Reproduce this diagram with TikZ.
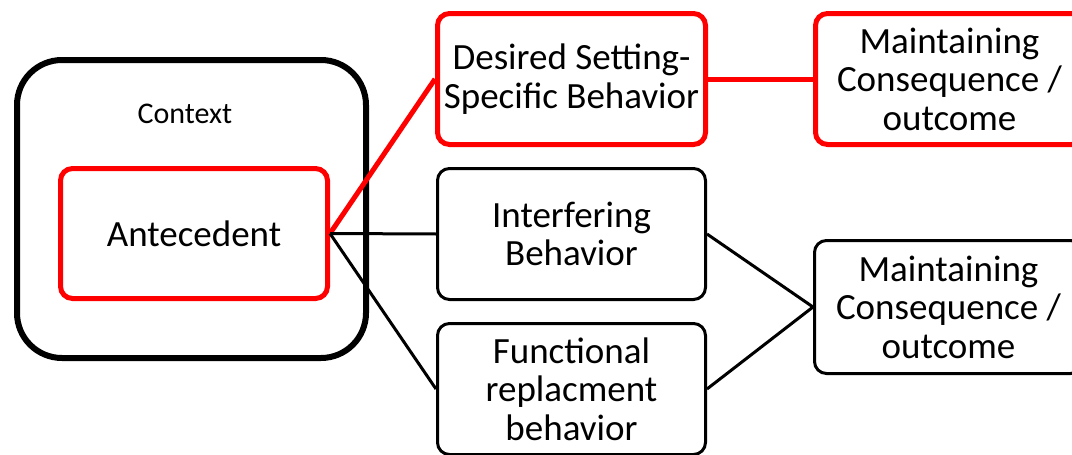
\documentclass[tikz,border=0pt]{standalone}
\usepackage{fontspec}
\setmainfont{Carlito}

\begin{document}
\begin{tikzpicture}[x=1pt,y=-1pt,
    box_node/.style={rectangle,rounded corners=12pt,draw,minimum width=268pt,minimum height=131pt,inner sep=0pt,align=center,font=\fontsize{37}{38.5}\selectfont},
    red_node/.style={box_node,draw=red,line width=5pt},
    black_node/.style={box_node,line width=3pt}]

    \clip (0,0) rectangle (1072,455);
    \node[draw,line width=6pt,rounded corners=45pt,minimum width=349pt,minimum height=298pt] (ctx) at (191.5,209) {};
    \node[font=\fontsize{30}{36}\selectfont] (ctx_label) at (185,114) {Context};
    \node[red_node,minimum width=267pt,minimum height=130pt] (ante) at (194,233.5) {Antecedent};
    \node[red_node] (desired) at (571.5,79) {Desired Setting-\\Specific Behavior};
    \node[red_node] (cons1) at (949.5,79) {Maintaining\\Consequence /\\outcome};
    \node[black_node] (interf) at (571.5,234) {Interfering\\Behavior};
    \node[black_node] (func) at (571.5,389) {Functional\\replacment\\behavior};
    \node[black_node,minimum height=133pt] (cons2) at (948.5,307) {Maintaining\\Consequence /\\outcome};
    \draw[red,line width=5pt] (ante.east) -- (desired.west);
    \draw[red,line width=5pt] (desired) -- (cons1);
    \draw[line width=3pt] (ante.east) -- (interf.west);
    \draw[line width=3pt] (ante.east) -- (func.west);
    \draw[line width=3pt] (interf.east) -- (cons2.west) -- (func.east);
\end{tikzpicture}
\end{document}
